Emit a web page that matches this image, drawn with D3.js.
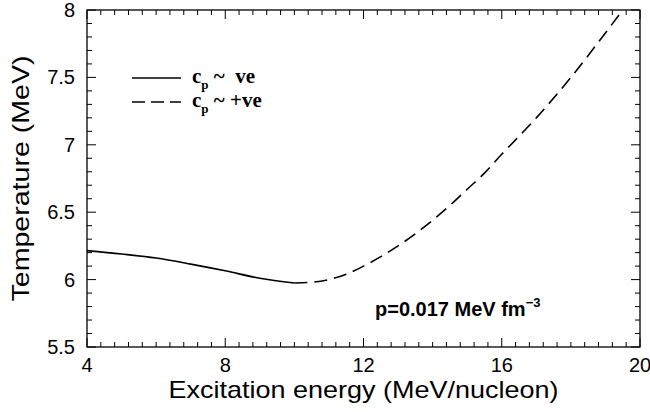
<!DOCTYPE html>
<html>
<head>
<meta charset="utf-8">
<script src="https://cdn.jsdelivr.net/npm/d3@7"></script>
<style>
  body { margin: 0; background: #fff; }
  svg { font-family: "Liberation Sans", Arial, sans-serif; }
</style>
</head>
<body>
<div id="chart"></div>
<script>
'use strict';

// solid branch (c_p negative)
var negX = [4, 5, 6, 7, 8, 9, 10];
var negT = [6.215, 6.19, 6.16, 6.115, 6.065, 6.01, 5.975];

// dashed branch (c_p positive)
var posX = [10, 10.5, 11, 11.5, 12, 12.5, 13, 13.5, 14, 14.5, 15, 15.5, 16, 16.3, 17, 18, 19, 19.5];
var posT = [5.975, 5.98, 6.0, 6.04, 6.1, 6.17, 6.25, 6.34, 6.44, 6.55, 6.67, 6.79, 6.93, 7.01, 7.2, 7.5, 7.83, 8.0];

var xTicks = [4, 8, 12, 16, 20];
var yTicks = [5.5, 6, 6.5, 7, 7.5, 8];

var width = 650, height = 412;
var margin = {top: 10, right: 10, bottom: 65, left: 87};

var svg = d3.select('#chart').append('svg')
    .attr('width', width)
    .attr('height', height);

var x = d3.scaleLinear().domain([4, 20]).range([margin.left, width - margin.right]);
var y = d3.scaleLinear().domain([5.5, 8]).range([height - margin.bottom, margin.top]);

var x0 = x.range()[0], x1 = x.range()[1];
var y0 = y.range()[0], y1 = y.range()[1];

// frame
svg.append('rect')
  .attr('x', x0).attr('y', y1)
  .attr('width', x1 - x0).attr('height', y0 - y1)
  .attr('fill', 'none').attr('stroke', '#000').attr('stroke-width', 1.3);

// ticks, drawn inward on all four sides
var xMinor = d3.range(4, 20.001, 0.4);
var yMinor = d3.range(5.5, 8.001, 0.1);
var ticks = svg.append('g').attr('stroke', '#000').attr('stroke-width', 1);

function isMajor(v, arr) {
  return arr.some(function(t) { return Math.abs(t - v) < 1e-6; });
}

xMinor.forEach(function(v) {
  var len = isMajor(v, xTicks) ? 9 : 5;
  ticks.append('line').attr('x1', x(v)).attr('x2', x(v)).attr('y1', y0).attr('y2', y0 - len);
  ticks.append('line').attr('x1', x(v)).attr('x2', x(v)).attr('y1', y1).attr('y2', y1 + len);
});
yMinor.forEach(function(v) {
  var len = isMajor(v, yTicks) ? 9 : 5;
  ticks.append('line').attr('y1', y(v)).attr('y2', y(v)).attr('x1', x0).attr('x2', x0 + len);
  ticks.append('line').attr('y1', y(v)).attr('y2', y(v)).attr('x1', x1).attr('x2', x1 - len);
});

// tick labels
svg.append('g').selectAll('text')
  .data(xTicks)
  .enter().append('text')
  .attr('x', function(d) { return x(d); })
  .attr('y', y0 + 25)
  .attr('text-anchor', 'middle')
  .attr('font-size', 20)
  .text(function(d) { return d; });

svg.append('g').selectAll('text')
  .data(yTicks)
  .enter().append('text')
  .attr('x', x0 - 12)
  .attr('y', function(d) { return y(d) + 7; })
  .attr('text-anchor', 'end')
  .attr('font-size', 20)
  .text(function(d) { return d; });

// axis titles
svg.append('text')
  .attr('x', (x0 + x1) / 2)
  .attr('y', 398)
  .attr('text-anchor', 'middle')
  .attr('font-size', 24)
  .attr('textLength', 390)
  .attr('lengthAdjust', 'spacingAndGlyphs')
  .text('Excitation energy (MeV/nucleon)');

svg.append('text')
  .attr('transform', 'translate(29,' + ((y0 + y1) / 2) + ') rotate(-90)')
  .attr('text-anchor', 'middle')
  .attr('font-size', 24)
  .attr('textLength', 246)
  .attr('lengthAdjust', 'spacingAndGlyphs')
  .text('Temperature (MeV)');

// curves
var line = d3.line()
  .x(function(d) { return x(d[0]); })
  .y(function(d) { return y(d[1]); })
  .curve(d3.curveMonotoneX);

svg.append('path')
  .datum(d3.zip(negX, negT))
  .attr('d', line)
  .attr('fill', 'none').attr('stroke', '#000').attr('stroke-width', 1.6);

svg.append('path')
  .datum(d3.zip(posX, posT))
  .attr('d', line)
  .attr('fill', 'none').attr('stroke', '#000').attr('stroke-width', 1.6)
  .attr('stroke-dasharray', '13,7');

// legend
var entries = [
  {y: 78, dash: null, label: '~  ve'},
  {y: 102, dash: '13,6', label: '~ +ve'}
];

entries.forEach(function(e) {
  svg.append('line')
    .attr('x1', 132).attr('x2', 181).attr('y1', e.y).attr('y2', e.y)
    .attr('stroke', '#000').attr('stroke-width', 1.6)
    .attr('stroke-dasharray', e.dash);
  var t = svg.append('text')
    .attr('x', 192).attr('y', e.y + 5)
    .style('font-family', '"Liberation Serif", "Times New Roman", serif')
    .style('font-weight', 'bold')
    .style('white-space', 'pre')
    .attr('font-size', 21);
  t.append('tspan').text('c');
  t.append('tspan').attr('font-size', 13).attr('dy', 6).text('p');
  t.append('tspan').attr('dy', -6).text(' ' + e.label);
});

// pressure annotation
var ann = svg.append('text')
  .attr('x', 375).attr('y', 316)
  .attr('font-size', 20)
  .attr('font-weight', 'bold');
ann.append('tspan').text('p=0.017 MeV fm');
ann.append('tspan').attr('font-size', 13).attr('dy', -9).text('\u22123');
</script>
</body>
</html>
